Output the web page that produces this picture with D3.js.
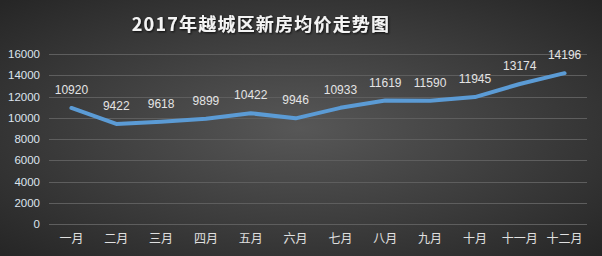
<!DOCTYPE html>
<html><head><meta charset="utf-8">
<script src="https://cdn.jsdelivr.net/npm/d3@7"></script>
<style>html,body{margin:0;padding:0;background:#333;}svg{display:block;}</style>
</head><body>
<svg id="c" width="602" height="256"></svg>
<script>
const title = "2017年越城区新房均价走势图";
const months = ["一月","二月","三月","四月","五月","六月","七月","八月","九月","十月","十一月","十二月"];
const prices = [10920, 9422, 9618, 9899, 10422, 9946, 10933, 11619, 11590, 11945, 13174, 14196];
const yTicks = [0, 2000, 4000, 6000, 8000, 10000, 12000, 14000, 16000];

const W = 602, H = 256;
const svg = d3.select("#c");
const defs = svg.append("defs");
const rg = defs.append("radialGradient").attr("id","bg").attr("cx","50%").attr("cy","50%").attr("r","70%");
rg.append("stop").attr("offset","0%").attr("stop-color","#575757");
rg.append("stop").attr("offset","100%").attr("stop-color","#262626");
const f = defs.append("filter").attr("id","sh").attr("x","-10%").attr("y","-30%").attr("width","120%").attr("height","160%");
f.append("feDropShadow").attr("dx",1).attr("dy",1).attr("stdDeviation",0.8).attr("flood-color","#000").attr("flood-opacity",0.8);

svg.append("rect").attr("width",W).attr("height",H).attr("fill","url(#bg)");

const font = "'Noto Sans CJK SC','Microsoft YaHei',sans-serif";
const x = d3.scaleBand().domain(months).range([49, 587]);
const y = d3.scaleLinear().domain([0, 16000]).range([224, 54]);

svg.append("g").selectAll("line").data(yTicks).join("line")
  .attr("x1", 49).attr("x2", 587)
  .attr("y1", d => Math.round(y(d)) + 0.5).attr("y2", d => Math.round(y(d)) + 0.5)
  .attr("stroke", "#5e5e5e").attr("stroke-width", 1);

const yAx = svg.append("g").attr("transform","translate(44,0)")
  .call(d3.axisLeft(y).tickValues(yTicks).tickSize(0).tickPadding(4).tickFormat(d3.format("d")));
yAx.select(".domain").remove();
yAx.selectAll("text").attr("fill","#dde4ee").attr("font-size","11.5px").attr("font-family","'Liberation Sans',Arial,sans-serif");

const xAx = svg.append("g").attr("transform","translate(0,230)")
  .call(d3.axisBottom(x).tickSize(0).tickPadding(4));
xAx.select(".domain").remove();
xAx.selectAll("text").attr("fill","#e0e0e0").attr("font-size","12px").attr("font-family",font);

const line = d3.line().x((d,i) => x(months[i]) + x.bandwidth()/2).y(d => y(d));
svg.append("path").datum(prices).attr("d", line)
  .attr("fill","none").attr("stroke","#5b9bd5").attr("stroke-width",4)
  .attr("stroke-linejoin","round").attr("stroke-linecap","round");

svg.append("g").selectAll("text").data(prices).join("text")
  .attr("x", (d,i) => x(months[i]) + x.bandwidth()/2)
  .attr("y", d => y(d) - 14)
  .attr("text-anchor","middle")
  .attr("fill","#e4e4e4").attr("font-size","12px")
  .attr("font-family","'Liberation Sans',Arial,sans-serif")
  .text(d => d);

svg.append("text").attr("x", 261).attr("y", 31).attr("text-anchor","middle")
  .attr("fill","#f4f4f4").attr("font-size","18px").attr("font-weight","bold")
  .attr("font-family",font).attr("letter-spacing","1.2px").attr("filter","url(#sh)")
  .text(title);
</script>
</body></html>
